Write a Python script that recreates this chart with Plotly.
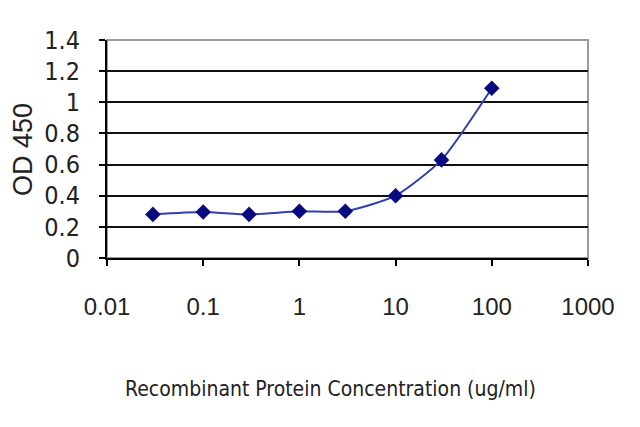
import plotly.graph_objects as go

# Data
concentration = [0.03, 0.1, 0.3, 1, 3, 10, 30, 100]
od450 = [0.28, 0.295, 0.28, 0.30, 0.30, 0.40, 0.63, 1.09]

x_tick_vals = [0.01, 0.1, 1, 10, 100, 1000]
x_tick_text = ["0.01", "0.1", "1", "10", "100", "1000"]
y_tick_vals = [0, 0.2, 0.4, 0.6, 0.8, 1.0, 1.2, 1.4]
y_tick_text = ["0", "0.2", "0.4", "0.6", "0.8", "1", "1.2", "1.4"]

x_title = "Recombinant Protein Concentration (ug/ml)"
y_title = "OD 450"

# the page body adds an 8px offset, so the figure is sized to fit the window
OFF = 8
FW, FH = 640 - OFF, 427 - OFF


def xp(px):
    return (px - OFF) / FW


def yp(py):
    return 1 - (py - OFF) / FH


FONT = "Arial, Liberation Sans, sans-serif"
COND = "DejaVu Sans Condensed, Liberation Sans Narrow, Liberation Sans, Arial, sans-serif"

fig = go.Figure()
fig.add_trace(go.Scatter(
    x=concentration, y=od450, mode="lines+markers",
    line=dict(color="#2f3fae", width=2, shape="spline", smoothing=0.6),
    marker=dict(symbol="diamond", size=12, color="#0a0a80"),
    showlegend=False, hoverinfo="skip",
))

fig.update_layout(
    width=FW, height=FH,
    margin=dict(l=0, r=0, t=0, b=0),
    paper_bgcolor="white", plot_bgcolor="white",
    xaxis=dict(
        type="log", range=[-2, 3], domain=[xp(107), xp(588)],
        showgrid=False, zeroline=False,
        showline=True, linecolor="black", linewidth=2,
        ticks="outside", ticklen=6, tickwidth=2, tickcolor="black",
        tickvals=x_tick_vals, ticktext=x_tick_text,
        tickfont=dict(family=FONT, size=24, color="#222222"),
        ticklabelstandoff=20,
        automargin=False, anchor="y",
    ),
    yaxis=dict(
        range=[0, 1.4], domain=[yp(258), yp(40)],
        showgrid=True, gridcolor="#111111", gridwidth=2,
        zeroline=False,
        showline=True, linecolor="black", linewidth=2,
        ticks="outside", ticklen=6, tickwidth=2, tickcolor="black",
        tickvals=y_tick_vals, ticktext=y_tick_text,
        tickfont=dict(family=COND, size=25, color="#222222"),
        ticklabelstandoff=14,
        automargin=False,
    ),
    shapes=[dict(
        type="rect", xref="x domain", yref="y domain",
        x0=0, x1=1, y0=0, y1=1,
        line=dict(color="#9a9a9a", width=2), layer="below",
    )],
    annotations=[
        dict(text=y_title, xref="paper", yref="paper",
             x=xp(23), y=yp(150), showarrow=False, textangle=-90,
             font=dict(family=FONT, size=27, color="#222222"),
             height=26, xanchor="center", yanchor="middle"),
        dict(text=x_title, xref="paper", yref="paper",
             x=xp(330), y=yp(389), showarrow=False,
             font=dict(family=COND, size=21, color="#222222"),
             xanchor="center", yanchor="middle"),
    ],
)

fig.write_html("out.html")
